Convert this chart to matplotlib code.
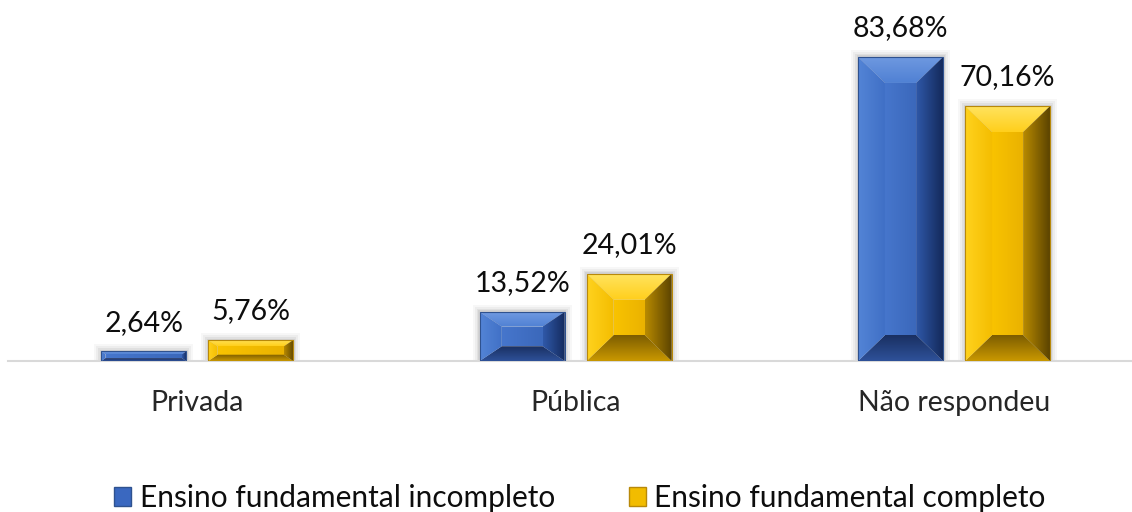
import numpy as np
import matplotlib
matplotlib.use("Agg")
import matplotlib.pyplot as plt
from matplotlib.patches import Polygon, Rectangle, Patch
from matplotlib.colors import LinearSegmentedColormap, to_rgb

# ---- data ----
categories = ["Privada", "Pública", "Não respondeu"]
series_names = ["Ensino fundamental incompleto", "Ensino fundamental completo"]
incompleto = [2.64, 13.52, 83.68]
completo = [5.76, 24.01, 70.16]
value_labels_incompleto = ["2,64%", "13,52%", "83,68%"]
value_labels_completo = ["5,76%", "24,01%", "70,16%"]

plt.rcParams['font.family'] = ['Lato', 'DejaVu Sans']

W, H = 1132, 512
fig = plt.figure(figsize=(W / 100, H / 100), dpi=100)
ax_left = 8 / W
ax_bottom = 1 - 361 / H
ax_top = 1 - 34 / H
ax = fig.add_axes([ax_left, ax_bottom, 1 - ax_left, ax_top - ax_bottom])
ax.set_xlim(-0.5, 2.47)
ax.set_ylim(0, 90)
for s in ["top", "right", "left"]:
    ax.spines[s].set_visible(False)
ax.spines["bottom"].set_color("#d9d9d9")
ax.spines["bottom"].set_linewidth(1.5)
ax.set_yticks([])
x = np.arange(len(categories))
ax.set_xticks(x)
ax.set_xticklabels(categories, fontsize=20.5, color="#262626")
ax.tick_params(axis="x", length=0, pad=21)

# pixel conversions
px_x = (ax.get_position().width * W) / (2.47 + 0.5)   # px per x unit
px_y = (ax.get_position().height * H) / 90.0          # px per y unit

bar_w = 85 / px_x
gap = 22 / px_x

palettes = {
    "blue": dict(top=("#6f99e0", "#5081d4"), left=("#5384d6", "#4070c6"),
                 center=("#4676cc", "#3b68bb"), right=("#2f58a8", "#142a5c"),
                 bottom=("#2e5199", "#1a3062"), edge="#2f528f", legend="#3a68c0"),
    "gold": dict(top=("#ffe35e", "#ffcf1c"), left=("#ffd21e", "#f4bd00"),
                 center=("#f9c300", "#eab200"), right=("#b88a00", "#5c4400"),
                 bottom=("#c99800", "#7d5d00"), edge="#b8890a", legend="#f2bc00"),
}


def grad_fill(verts, c0, c1, direction, zorder=3):
    poly = Polygon(verts, closed=True, facecolor="none", edgecolor="none")
    ax.add_patch(poly)
    xs = [v[0] for v in verts]
    ys = [v[1] for v in verts]
    cmap = LinearSegmentedColormap.from_list("g", [to_rgb(c0), to_rgb(c1)])
    n = 64
    if direction == "h":
        img = np.linspace(0, 1, n).reshape(1, n)
    elif direction == "v":   # c0 at top
        img = np.linspace(0, 1, n).reshape(n, 1)
    else:  # "vu": c0 at bottom
        img = np.linspace(1, 0, n).reshape(n, 1)
    im = ax.imshow(img, cmap=cmap, aspect="auto", origin="upper",
                   extent=(min(xs), max(xs), min(ys), max(ys)),
                   interpolation="bilinear", zorder=zorder, vmin=0, vmax=1)
    im.set_clip_path(poly)


def bevel_bar(xc, h, pal):
    x0, x1 = xc - bar_w / 2, xc + bar_w / 2
    y0, y1 = 0.0, h
    hpx = h * px_y
    bpx_y = min(26, 0.3 * hpx)
    bpx_x = min(27, 0.45 * hpx)
    bx = bpx_x / px_x
    by = bpx_y / px_y
    # soft shadow
    for k, a in [(7, 0.03), (5, 0.04), (3, 0.05), (1.5, 0.06)]:
        ax.add_patch(Rectangle((x0 - k / px_x, y0), bar_w + 2 * k / px_x,
                               h + k / px_y, facecolor="black", alpha=a,
                               edgecolor="none", zorder=2))
    grad_fill([(x0 + bx, y0 + by), (x1 - bx, y0 + by), (x1 - bx, y1 - by),
               (x0 + bx, y1 - by)], *pal["center"], "h")
    grad_fill([(x0, y1), (x1, y1), (x1 - bx, y1 - by), (x0 + bx, y1 - by)],
              *pal["top"], "v")
    grad_fill([(x0, y0), (x1, y0), (x1 - bx, y0 + by), (x0 + bx, y0 + by)],
              *pal["bottom"], "vu")
    grad_fill([(x0, y0), (x0, y1), (x0 + bx, y1 - by), (x0 + bx, y0 + by)],
              *pal["left"], "h")
    grad_fill([(x1 - bx, y0 + by), (x1 - bx, y1 - by), (x1, y1), (x1, y0)],
              *pal["right"], "h")
    ax.add_patch(Rectangle((x0, y0), bar_w, h, facecolor="none",
                           edgecolor=pal["edge"], linewidth=0.8, zorder=4))


for i, xc in enumerate(x):
    xb = xc - gap / 2 - bar_w / 2
    xy = xc + gap / 2 + bar_w / 2
    bevel_bar(xb, incompleto[i], palettes["blue"])
    bevel_bar(xy, completo[i], palettes["gold"])
    ax.annotate(value_labels_incompleto[i], (xb, incompleto[i]),
                xytext=(0, 15), textcoords="offset points", ha="center",
                va="baseline", fontsize=20.5, color="#0d0d0d")
    ax.annotate(value_labels_completo[i], (xy, completo[i]),
                xytext=(0, 15), textcoords="offset points", ha="center",
                va="baseline", fontsize=20.5, color="#0d0d0d")

# legend
handles = [Patch(facecolor=palettes["blue"]["legend"], edgecolor=palettes["blue"]["edge"]),
           Patch(facecolor=palettes["gold"]["legend"], edgecolor=palettes["gold"]["edge"])]
fig.legend(handles, series_names, loc="center", bbox_to_anchor=(580 / W, 1 - 498 / H),
           ncol=2, frameon=False, fontsize=21.5, handlelength=0.57, handleheight=0.57,
           handletextpad=0.3, columnspacing=2.45, labelcolor="#0d0d0d",
           borderaxespad=0, borderpad=0)

fig.savefig("out.png", dpi=100)
